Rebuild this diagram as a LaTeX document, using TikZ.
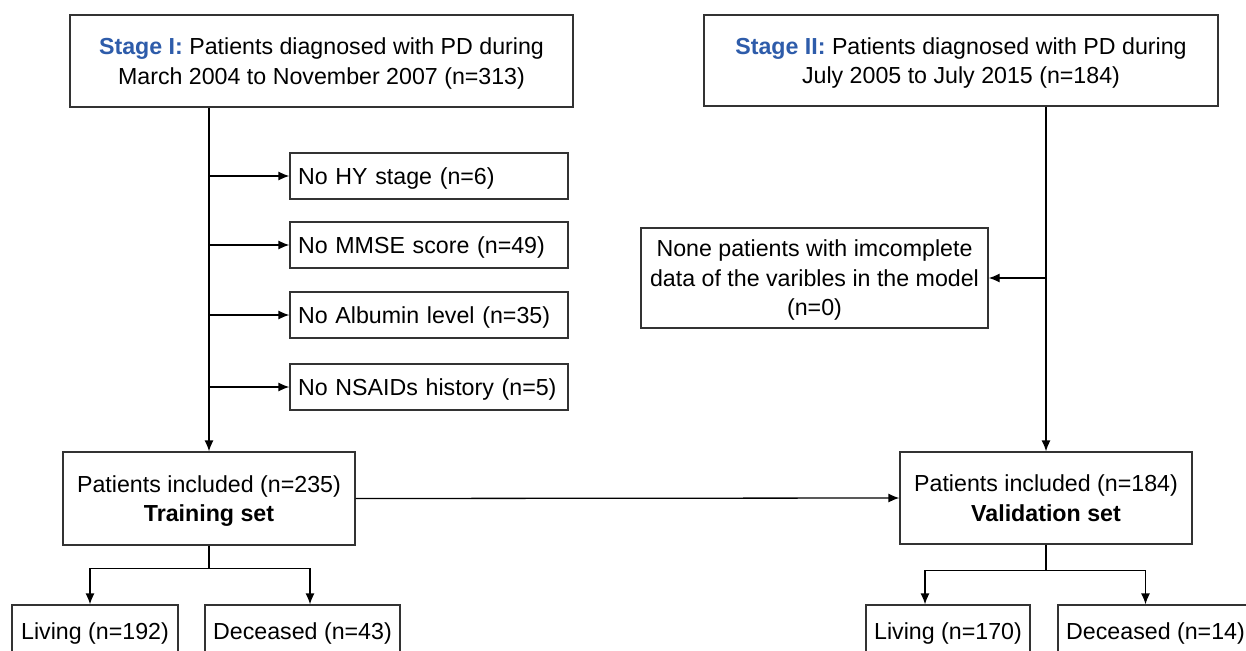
\documentclass[tikz,border=0pt]{standalone}
\usepackage{fontspec}
\setmainfont{Liberation Sans}
\usetikzlibrary{arrows.meta}
\definecolor{stageblue}{RGB}{46,92,170}

\begin{document}
\begin{tikzpicture}[x=1pt, y=-1pt, line width=1.3pt,
                    font=\fontsize{23.2}{29.5}\selectfont,
                    arr/.style = {-{Latex[length=11pt,width=9pt]}},
                    main/.style = {draw=black!80, rectangle, align=center, inner sep=4pt, text depth=0pt},
                    excl/.style = {main, align=left, text width=262pt, inner xsep=8pt, minimum height=46pt}]
                    \useasboundingbox (0,0) rectangle (1246,650);
                    % top boxes
                    \node[main, minimum width=503pt, minimum height=92pt] (stage1) at (321.5,61) {\textcolor{stageblue}{\textbf{Stage I:}} Patients diagnosed with PD during\\March 2004 to November 2007 (n=313)};
                    \node[main, minimum width=514pt, minimum height=91pt] (stage2) at (961,60.5) {\textcolor{stageblue}{\textbf{Stage II:}} Patients diagnosed with PD during\\July 2005 to July 2015 (n=184)};
                    % exclusions
                    \node[excl] (hy) at (429,176) {No HY stage (n=6)};
                    \node[excl] (mmse) at (429,245) {No MMSE score (n=49)};
                    \node[excl] (alb) at (429,315) {No Albumin level (n=35)};
                    \node[excl] (nsaid) at (429,387) {No NSAIDs history (n=5)};
                    \node[main, minimum width=347pt, minimum height=100pt] (none) at (814.5,278) {None patients with imcomplete\\data of the varibles in the model\\(n=0)};
                    % sets
                    \node[main, minimum width=292pt, minimum height=93pt] (train) at (209,498.5) {Patients included (n=235)\\\textbf{Training set}};
                    \node[main, minimum width=292pt, minimum height=92pt] (valid) at (1046,498) {Patients included (n=184)\\\textbf{Validation set}};
                    % outcomes
                    \node[main, minimum width=166pt, minimum height=52pt] (live1) at (95,631) {Living (n=192)};
                    \node[main, minimum width=195pt, minimum height=52pt] (dead1) at (302.5,631) {Deceased (n=43)};
                    \node[main, minimum width=164pt, minimum height=52pt] (live2) at (948,631) {Living (n=170)};
                    \node[main, minimum width=195pt, minimum height=52pt] (dead2) at (1155.5,631) {Deceased (n=14)};
                    % connectors
                    \draw[arr] (stage1.south -| train) -- (train.north);
                    \foreach \b in {hy,mmse,alb,nsaid}
                        \draw[arr] (\b.west -| train) -- (\b.west);
                    \draw[arr] (stage2.south -| valid) -- (valid.north);
                    \draw[arr] (none.east -| valid) -- (none.east);
                    \draw[arr] (train.east) -- (valid.west);
                    \draw (train.south) -- ++(0,23) coordinate (split1);
                    \draw[arr] (split1) -| ([xshift=-5pt]live1.north);
                    \draw[arr] (split1) -| ([xshift=7.5pt]dead1.north);
                    \draw (valid.south) -- ++(0,26) coordinate (split2);
                    \draw[arr] (split2) -| ([xshift=-23pt]live2.north);
                    \draw[arr] (split2) -| ([xshift=-10pt]dead2.north);
                \end{tikzpicture}
\end{document}
